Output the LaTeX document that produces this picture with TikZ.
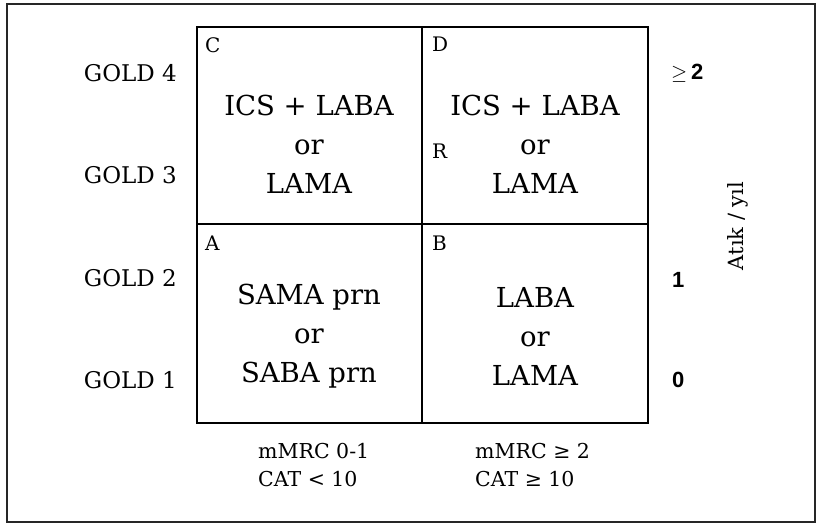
\documentclass[tikz,border=0pt]{standalone}
\usepackage{fontspec}
\setmainfont{DejaVu Serif}
\newfontfamily\numfont{Liberation Sans}
\begin{document}
\begin{tikzpicture}[x=1pt,y=-1pt,
  frame/.style={draw=black!85,line width=2.2pt},
  grid/.style={draw=black,line width=2.8pt},
  drug/.style={font=\fontsize{27.5}{39}\selectfont,align=center,inner sep=0pt},
  cellid/.style={font=\fontsize{20}{24}\selectfont,anchor=north west,inner sep=0pt},
  gold/.style={font=\fontsize{23}{27}\selectfont,anchor=east,inner sep=0pt},
  rate/.style={font=\numfont\fontsize{22}{26}\selectfont,anchor=west,inner sep=0pt},
  axis/.style={font=\fontsize{20.5}{28}\selectfont,anchor=north west,align=left,inner sep=0pt}]
\useasboundingbox (0,0) rectangle (821,525);
% outer frame
\draw[frame] (7,4) rectangle (815,522);
% quadrant grid
\coordinate (tl) at (197,27);
\coordinate (br) at (648,423);
\draw[grid] (tl) rectangle (br);
\draw[grid] (422,27) -- (422,423);
\draw[grid] (197,224) -- (648,224);
% cell letters
\node[cellid] (lc) at (205,37) {C};
\node[cellid] (ld) at (432,37) {D};
\node[cellid] (lr) at (432,144) {R};
\node[cellid] (la) at (205,236) {A};
\node[cellid] (lb) at (432,236) {B};
% treatments
\node[drug] (c) at (309,144) {ICS + LABA\\or\\LAMA};
\node[drug] (d) at (535,144) {ICS + LABA\\or\\LAMA};
\node[drug] (a) at (309,336) {SAMA prn\\or\\SABA prn};
\node[drug] (b) at (535,336) {LABA\\or\\LAMA};
% GOLD stages
\node[gold] (g4) at (177,73) {GOLD 4};
\node[gold] (g3) at (177,175) {GOLD 3};
\node[gold] (g2) at (177,278) {GOLD 2};
\node[gold] (g1) at (177,380) {GOLD 1};
% exacerbations per year
\node[rate] (r2) at (671,73) {$\geq$\,\textbf{2}};
\node[rate] (r1) at (672,280) {\bfseries 1};
\node[rate] (r0) at (672,380) {\bfseries 0};
\node[font=\fontsize{21}{25}\selectfont,rotate=90,inner sep=0pt] (ax) at (738,226) {Atık / yıl};
% symptom scores
\node[axis] (s1) at (258,443) {mMRC 0-1\\CAT < 10};
\node[axis] (s2) at (475,443) {mMRC ≥ 2\\CAT ≥ 10};
\end{tikzpicture}
\end{document}
